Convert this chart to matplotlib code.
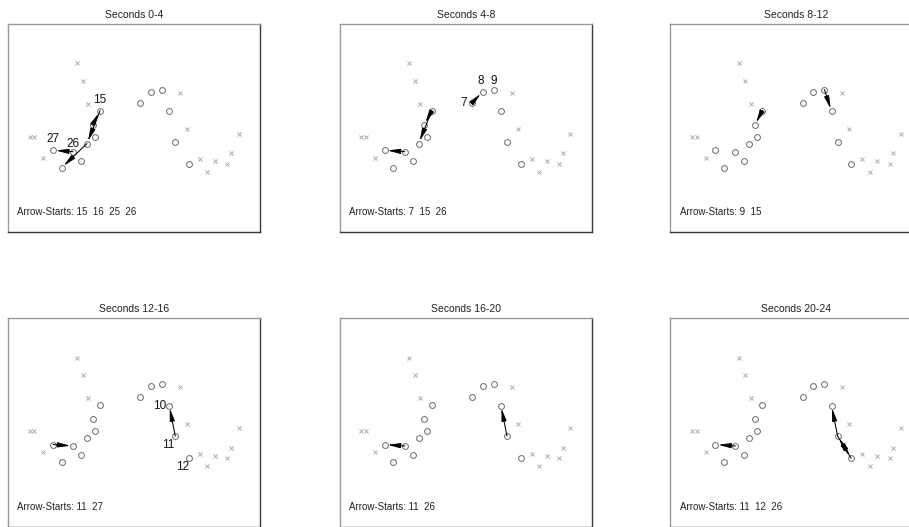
import matplotlib
matplotlib.use("Agg")
import matplotlib.pyplot as plt
from matplotlib.patches import FancyArrowPatch

# Layout of the states (x, y in percent of the panel extent)
circle_ids = [7, 8, 9, 10, 11, 12, 15, 16, 17, 23, 24, 25, 26, 27]
circle_x = [52.4, 56.6, 61.1, 63.9, 66.3, 71.7, 36.5, 33.5, 34.5, 29.1, 21.3, 31.3, 25.8, 17.9]
circle_y = [62.1, 67.4, 68.5, 58.1, 43.5, 32.8, 58.4, 51.5, 45.9, 34.4, 31.0, 42.6, 38.7, 39.4]

cross_x = [27.4, 29.8, 31.9, 8.6, 10.4, 14.0, 68.1, 70.8, 91.4, 88.4, 76.1, 82.1, 86.9, 79.0]
cross_y = [81.1, 72.6, 61.6, 45.9, 45.9, 35.8, 66.9, 49.4, 47.4, 37.9, 35.0, 34.1, 32.8, 29.0]

titles = ["Seconds 0-4", "Seconds 4-8", "Seconds 8-12",
          "Seconds 12-16", "Seconds 16-20", "Seconds 20-24"]

# Transitions (from, to) observed in each time window
transitions = [
    [(16, 15), (15, 25), (25, 24), (26, 27)],
    [(7, 8), (15, 16), (15, 25), (26, 27)],
    [(9, 10), (15, 16)],
    [(11, 10), (27, 26)],
    [(11, 10), (26, 27)],
    [(11, 10), (11, 12), (12, 11), (26, 27)],
]

# States labelled in each window
labelled = [[15, 26, 27], [7, 8, 9], [], [10, 11, 12], [], []]

# Label offsets in pixels (dx, dy) relative to the state marker
label_offset = {
    (0, 15): (0, 11), (0, 26): (0, 8), (0, 27): (0, 11),
    (1, 7): (-8, 0), (1, 8): (-2, 11), (1, 9): (0, 9),
    (3, 10): (-10, 0), (3, 11): (-7, -9), (3, 12): (-6, -9),
}

pos = {i: (x, y) for i, x, y in zip(circle_ids, circle_x, circle_y)}

W, H = 909, 527
fig = plt.figure(figsize=(W / 100, H / 100), dpi=100)
fig.patch.set_facecolor("white")

col_left = [8, 339.7, 670.3]
row_top = [24, 318.3]
box_w, box_h = 252.3, 208.3

FONT = ["Liberation Sans", "DejaVu Sans"]

for k in range(6):
    r, c = divmod(k, 3)
    left = col_left[c] / W
    bottom = (H - (row_top[r] + box_h)) / H
    ax = fig.add_axes([left, bottom, box_w / W, box_h / H])
    ax.set_xlim(0, 100)
    ax.set_ylim(0, 100)
    ax.set_xticks([])
    ax.set_yticks([])
    for side in ("top", "left"):
        ax.spines[side].set_color("#9a9a9a")
        ax.spines[side].set_linewidth(1.0)
    for side in ("bottom", "right"):
        ax.spines[side].set_color("#3a3a3a")
        ax.spines[side].set_linewidth(1.0)

    ax.plot(cross_x, cross_y, linestyle="none", marker="x", markersize=3.3,
            markeredgewidth=0.6, color="#a0a0a0", zorder=2)
    ax.plot(circle_x, circle_y, linestyle="none", marker="o", markersize=4.2,
            markerfacecolor="none", markeredgewidth=0.7, markeredgecolor="#6a6a6a",
            zorder=3)

    for a, b in transitions[k]:
        arr = FancyArrowPatch(pos[a], pos[b],
                              arrowstyle="-|>,head_length=0.75,head_width=0.15",
                              mutation_scale=10, linewidth=0.75, color="black",
                              shrinkA=0, shrinkB=2.0, zorder=4)
        ax.add_patch(arr)

    for n in labelled[k]:
        dx, dy = label_offset[(k, n)]
        ax.annotate(str(n), pos[n], xytext=(dx * 0.72, dy * 0.72),
                    textcoords="offset points", ha="center", va="center",
                    fontsize=8.5, color="#111111", family=FONT, zorder=5)

    starts = sorted({a for a, _ in transitions[k]})
    ax.text(0.037, 0.096, "Arrow-Starts: " + "  ".join(str(s) for s in starts),
            transform=ax.transAxes, ha="left", va="center", fontsize=7,
            color="#222222", family=FONT)

    ax.set_title(titles[k], fontsize=7.5, color="#222222", pad=4.5, family=FONT)

fig.savefig("out.png", dpi=100, facecolor="white")
